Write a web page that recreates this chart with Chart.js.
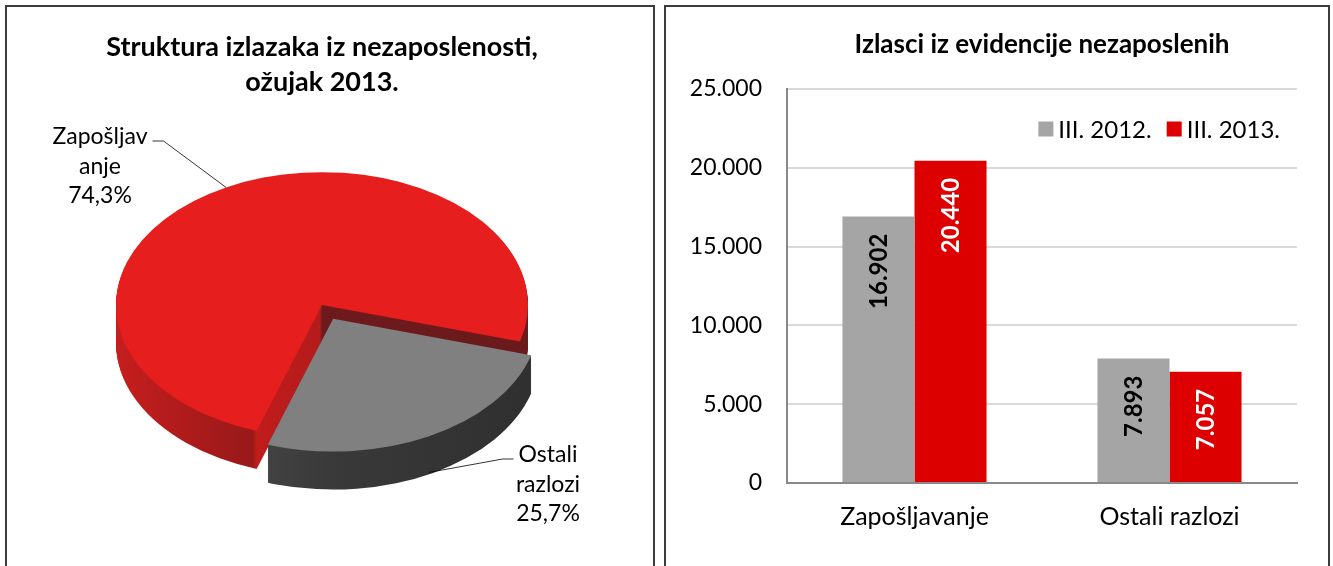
<!DOCTYPE html>
<html>
<head>
<meta charset="utf-8">
<script src="https://cdn.jsdelivr.net/npm/chart.js@4.4.1/dist/chart.umd.min.js"></script>
<style>
  body { margin: 0; background: #fff; }
  canvas { position: absolute; top: 0; }
  #pieChart { left: 0; }
  #barChart { left: 660px; }
  .frame { position: absolute; top: 5px; height: 600px; border: 2px solid #3c3c3c; box-sizing: border-box; }
</style>
</head>
<body>
<canvas id="pieChart" width="660" height="566"></canvas>
<canvas id="barChart" width="673" height="566"></canvas>
<div class="frame" style="left:5px; width:650px;"></div>
<div class="frame" style="left:664px; width:666px;"></div>
<script>
// data
const pieCategories = ['Zapošljavanje', 'Ostali razlozi'];
const pieLabelLines = [['Zapošljav', 'anje'], ['Ostali', 'razlozi']];
const pieShares = [74.3, 25.7];

const barCategories = ['Zapošljavanje', 'Ostali razlozi'];
const seriesNames = ['III. 2012.', 'III. 2013.'];
const values2012 = [16902, 7893];
const values2013 = [20440, 7057];
const yMax = 25000;
const yStep = 5000;

const FONT = 'Lato';
const fmtThousands = v => String(v).replace(/\B(?=(\d{3})+(?!\d))/g, '.');
const fmtPct = v => v.toFixed(1).replace('.', ',') + '%';

// ---- fake 3D pie: squash the top face, stack darker copies underneath ----
const tilt = 0.645;
const depth = 38;

function project(ctx, cx, cy) {
    ctx.translate(cx, cy);
    ctx.scale(1, tilt);
    ctx.translate(-cx, -cy);
}

function sliceCentre(arc) {
    const mid = (arc.startAngle + arc.endAngle) / 2;
    const off = (arc.options.offset || 0) / 4;
    return {x: arc.x + Math.cos(mid) * off, y: arc.y + Math.sin(mid) * off, mid: mid};
}

function wallGradient(ctx, arc, i) {
    const r = arc.outerRadius;
    const c = sliceCentre(arc);
    const left = c.x - r, w = 2 * r;
    const g = ctx.createLinearGradient(left, 0, left + w, 0);
    if (i === 0) {
        // red slice: outer wall, then cut face, then the dark face seen in the gap
        const cut = (c.x + Math.cos(arc.startAngle) * r - left) / w;
        const mid = (c.x - left) / w;
        g.addColorStop(0, '#c61e1e');
        g.addColorStop(Math.max(cut - 0.01, 0), '#981919');
        g.addColorStop(cut, '#c01c1c');
        g.addColorStop(mid - 0.005, '#b51b1b');
        g.addColorStop(mid, '#6e1a1c');
        g.addColorStop(1, '#6a1a1c');
    } else {
        g.addColorStop(0, '#555555');
        g.addColorStop(0.5, '#393939');
        g.addColorStop(1, '#2f2f2f');
    }
    return g;
}

const pie3d = {
    id: 'pie3d',
    beforeDatasetsDraw(chart) {
        const ctx = chart.ctx;
        const arcs = chart.getDatasetMeta(0).data;
        const cx = arcs[0].x, cy = arcs[0].y;
        arcs.forEach((arc, i) => {
            const c = sliceCentre(arc);
            ctx.fillStyle = wallGradient(ctx, arc, i);
            for (let d = depth; d >= 1; d--) {
                ctx.save();
                ctx.translate(0, d);
                project(ctx, cx, cy);
                ctx.beginPath();
                ctx.moveTo(c.x, c.y);
                ctx.arc(c.x, c.y, arc.outerRadius, arc.startAngle, arc.endAngle);
                ctx.closePath();
                ctx.fill();
                ctx.restore();
            }
            ctx.save();
            project(ctx, cx, cy);
            arc.draw(ctx);
            ctx.restore();
        });
        return false;
    },
    afterDraw(chart) {
        const ctx = chart.ctx;
        const arcs = chart.getDatasetMeta(0).data;
        const cy = arcs[0].y;
        ctx.save();
        ctx.font = '23px ' + FONT;
        ctx.fillStyle = '#000';
        ctx.textAlign = 'center';
        ctx.textBaseline = 'middle';
        ctx.strokeStyle = '#000';
        ctx.lineWidth = 0.8;
        // label boxes sit where the original put them
        const boxes = [{x: 100, y: 137, side: 1, drop: 0}, {x: 548, y: 455, side: -1, drop: 0.95}];
        arcs.forEach((arc, i) => {
            const b = boxes[i];
            const lines = pieLabelLines[i].concat([fmtPct(pieShares[i])]);
            lines.forEach((t, k) => ctx.fillText(t, b.x, b.y + k * 29.5));
            const c = sliceCentre(arc);
            const r = arc.outerRadius;
            const ax = c.x + Math.cos(c.mid) * r;
            const ay = cy + (c.y - cy + Math.sin(c.mid) * r) * tilt + depth * b.drop;
            const w = ctx.measureText(lines[0]).width;
            const sx = b.x + b.side * (w / 2 + 5);
            const sy = b.y + 4;
            ctx.beginPath();
            ctx.moveTo(sx, sy);
            ctx.lineTo(sx + b.side * 11, sy);
            ctx.lineTo(ax, ay);
            ctx.stroke();
        });
        ctx.restore();
    }
};

new Chart(document.getElementById('pieChart'), {
    type: 'pie',
    data: {
        labels: pieCategories,
        datasets: [{
            data: pieShares,
            backgroundColor: ['#e61e1e', '#808080'],
            borderWidth: 0,
            offset: [0, 96]
        }]
    },
    options: {
        responsive: false,
        animation: false,
        events: [],
        rotation: 198.5,
        radius: 206,
        layout: {padding: {left: 0, right: 16, top: 0, bottom: 65.8}},
        plugins: {
            legend: {display: false},
            tooltip: {enabled: false},
            title: {
                display: true,
                text: ['Struktura izlazaka iz nezaposlenosti,', 'ožujak 2013.'],
                color: '#000',
                font: {family: FONT, size: 27, weight: 'bold', lineHeight: 35.2 / 27},
                padding: {top: 29.4, bottom: 10}
            }
        }
    },
    plugins: [pie3d]
});

// ---- bar chart ----
const barValueLabels = {
    id: 'barValueLabels',
    afterDatasetsDraw(chart) {
        const ctx = chart.ctx;
        ctx.save();
        ctx.font = 'bold 24px ' + FONT;
        ctx.textAlign = 'right';
        ctx.textBaseline = 'middle';
        chart.data.datasets.forEach((ds, i) => {
            chart.getDatasetMeta(i).data.forEach((bar, j) => {
                ctx.save();
                ctx.translate(bar.x, bar.y + 17);
                ctx.rotate(-Math.PI / 2);
                ctx.fillStyle = i === 0 ? '#000' : '#fff';
                ctx.fillText(fmtThousands(ds.data[j]), 0, 1);
                ctx.restore();
            });
        });
        ctx.restore();
    }
};

// legend sits inside the plot, top right, in one row
const insideLegend = {
    id: 'insideLegend',
    afterDraw(chart) {
        const ctx = chart.ctx;
        const area = chart.chartArea;
        const box = 15, gapBox = 5, gapItem = 15;
        ctx.save();
        ctx.font = '24px ' + FONT;
        ctx.textAlign = 'left';
        ctx.textBaseline = 'middle';
        const items = chart.data.datasets.map(ds => ({text: ds.label, color: ds.backgroundColor}));
        const widths = items.map(it => box + gapBox + ctx.measureText(it.text).width);
        const total = widths.reduce((s, w) => s + w, 0) + gapItem * (items.length - 1);
        let x = area.right - 17 - total;
        const y = area.top + 40;
        items.forEach((it, i) => {
            ctx.fillStyle = it.color;
            ctx.fillRect(x, y - box / 2, box, box);
            ctx.fillStyle = '#000';
            ctx.fillText(it.text, x + box + gapBox, y + 1);
            x += widths[i] + gapItem;
        });
        ctx.restore();
    }
};

new Chart(document.getElementById('barChart'), {
    type: 'bar',
    data: {
        labels: barCategories,
        datasets: [
            {label: seriesNames[0], data: values2012, backgroundColor: '#a5a5a5'},
            {label: seriesNames[1], data: values2013, backgroundColor: '#dd0000'}
        ]
    },
    options: {
        responsive: false,
        animation: false,
        events: [],
        layout: {padding: {left: 0, right: 36, top: 0, bottom: 15}},
        datasets: {bar: {categoryPercentage: 0.565, barPercentage: 1}},
        scales: {
            x: {
                grid: {display: false, drawTicks: false},
                border: {color: '#898989', width: 2},
                ticks: {color: '#000', font: {family: FONT, size: 25}, padding: 19}
            },
            y: {
                min: 0,
                max: yMax,
                ticks: {stepSize: yStep, color: '#000', font: {family: FONT, size: 23}, padding: 25, callback: v => fmtThousands(v)},
                grid: {color: '#d9d9d9', lineWidth: 2, drawTicks: false},
                border: {color: '#898989', width: 2},
                afterFit(scale) { scale.width = 127; }
            }
        },
        plugins: {
            tooltip: {enabled: false},
            legend: {display: false},
            title: {
                display: true,
                fullSize: false,
                text: 'Izlasci iz evidencije nezaposlenih',
                color: '#000',
                font: {family: FONT, size: 26, weight: 'bold'},
                padding: {top: 29.4, bottom: 28.4}
            }
        }
    },
    plugins: [barValueLabels, insideLegend]
});
</script>
</body>
</html>
